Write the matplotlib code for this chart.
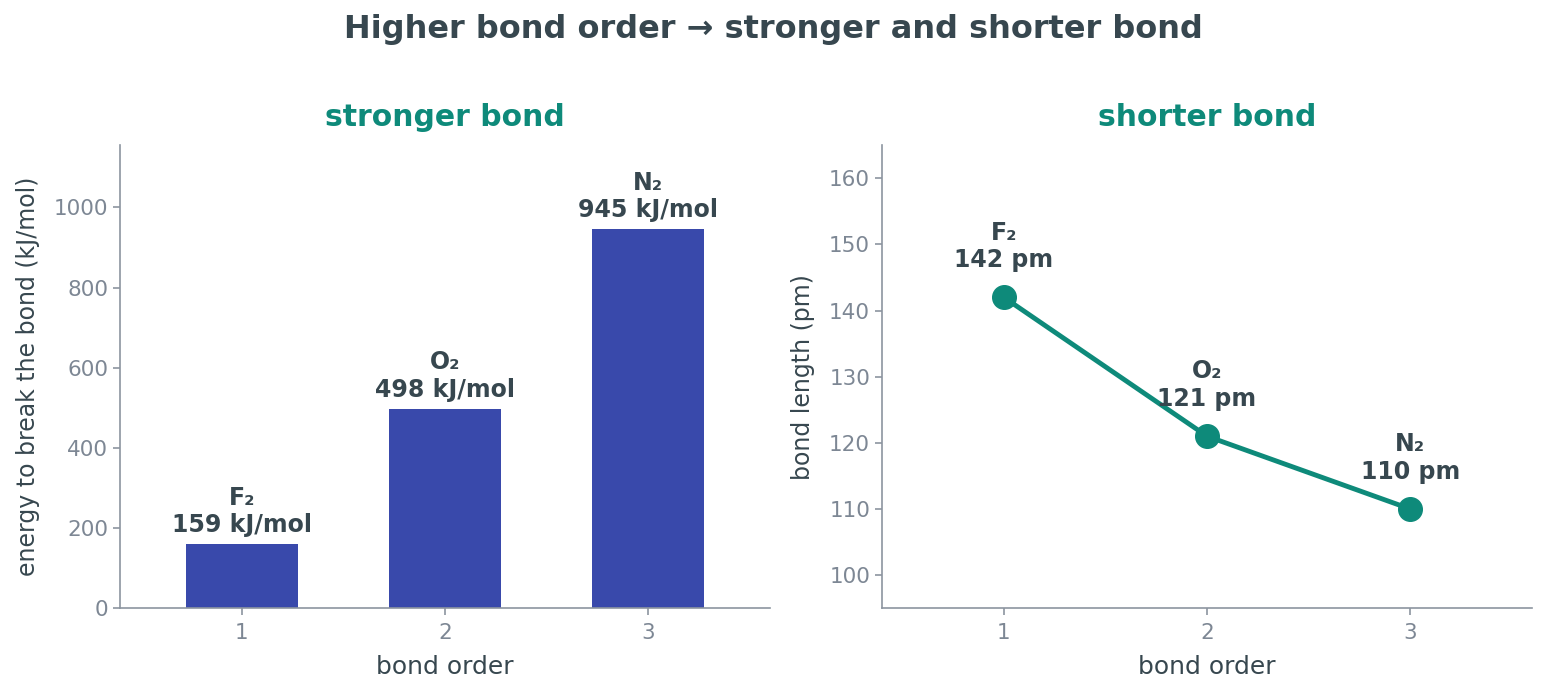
import matplotlib
matplotlib.use("Agg")
import matplotlib.pyplot as plt

bond_order = [1, 2, 3]
molecules = ["F₂", "O₂", "N₂"]
energy = [159, 498, 945]
length = [142, 121, 110]

DARK = "#37474F"
GRAY = "#7D8794"
SPINE = "#8C95A0"
BLUE = "#3949AB"
TEAL = "#0E8A7A"

fig, (ax1, ax2) = plt.subplots(1, 2, figsize=(15.46, 6.95), dpi=100)
fig.subplots_adjust(left=0.0776, right=0.991, bottom=0.125, top=0.791, wspace=0.172)

ax1.bar(bond_order, energy, width=0.55, color=BLUE)
for x, m, e in zip(bond_order, molecules, energy):
    ax1.annotate(f"{m}\n{e} kJ/mol", (x, e), xytext=(0, 5), textcoords="offset points",
                 ha="center", va="bottom", fontsize=17, fontweight="bold", color=DARK,
                 linespacing=1.2)
ax1.set_xlim(0.4, 3.6)
ax1.set_ylim(0, 1155)
ax1.set_xticks(bond_order)
ax1.set_xlabel("bond order", fontsize=18, color=DARK, labelpad=8)
ax1.set_ylabel("energy to break the bond (kJ/mol)", fontsize=17, color=DARK, labelpad=10)
ax1.set_title("stronger bond", fontsize=21.5, fontweight="bold", color=TEAL, pad=14)

ax2.plot(bond_order, length, color=TEAL, lw=3.5, marker="o", markersize=17)
for x, m, l in zip(bond_order, molecules, length):
    ax2.annotate(f"{m}\n{l} pm", (x, l), xytext=(0, 18), textcoords="offset points",
                 ha="center", va="bottom", fontsize=17, fontweight="bold", color=DARK,
                 linespacing=1.2)
ax2.set_xlim(0.4, 3.6)
ax2.set_ylim(95, 165)
ax2.set_xticks(bond_order)
ax2.set_yticks([100, 110, 120, 130, 140, 150, 160])
ax2.set_xlabel("bond order", fontsize=18, color=DARK, labelpad=8)
ax2.set_ylabel("bond length (pm)", fontsize=17, color=DARK, labelpad=10)
ax2.set_title("shorter bond", fontsize=21.5, fontweight="bold", color=TEAL, pad=14)

for ax in (ax1, ax2):
    for s in ("top", "right"):
        ax.spines[s].set_visible(False)
    for s in ("left", "bottom"):
        ax.spines[s].set_color(SPINE)
        ax.spines[s].set_linewidth(1.2)
    ax.tick_params(colors=SPINE, labelcolor=GRAY, labelsize=15.5, length=5, width=1.2)
    ax.tick_params(axis="x", pad=6)

fig.suptitle("Higher bond order → stronger and shorter bond", fontsize=23,
             fontweight="bold", color=DARK, y=0.98)

fig.savefig("out.png", dpi=100)
